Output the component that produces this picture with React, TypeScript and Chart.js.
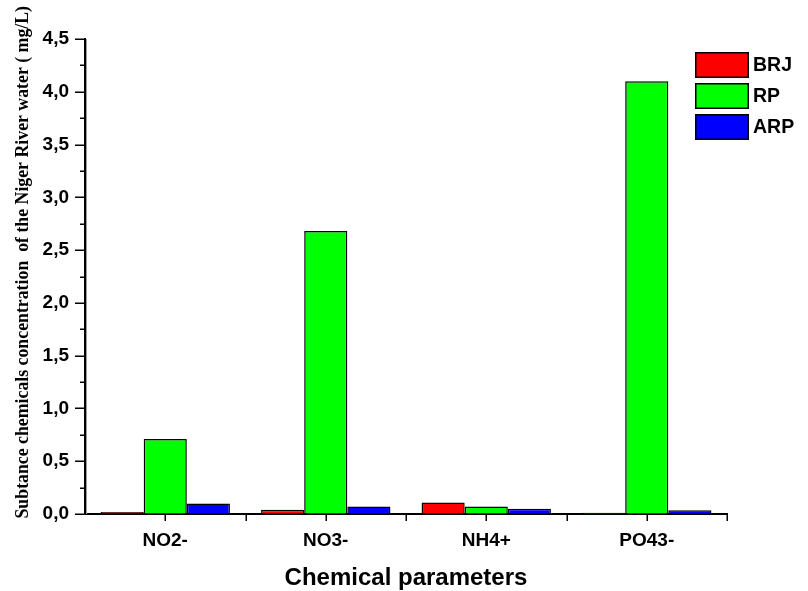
import React, { useEffect, useRef } from 'react';
import { Chart, registerables } from 'chart.js';

Chart.register(...registerables);

const categories = ['NO2-', 'NO3-', 'NH4+', 'PO43-'];
const seriesNames = ['BRJ', 'RP', 'ARP'];
const brjValues = [0.02, 0.04, 0.11, 0.012];
const rpValues = [0.71, 2.68, 0.07, 4.1];
const arpValues = [0.1, 0.07, 0.05, 0.035];
const seriesColors = ['#FF0000', '#00FF00', '#0000FF'];
const yMajorTicks = [0, 0.5, 1, 1.5, 2, 2.5, 3, 3.5, 4, 4.5];
const yMinorTicks = [0.25, 0.75, 1.25, 1.75, 2.25, 2.75, 3.25, 3.75, 4.25];
const yTitle = 'Subtance chemicals concentration  of the Niger River water ( mg/L)';
const xTitle = 'Chemical parameters';

const decorPlugin = {
  id: 'decor',
  afterDraw(chart: any) {
    const { ctx, chartArea, scales } = chart;
    const xs = scales.x;
    const ys = scales.y;
    ctx.save();
    // subtle axis shadow
    ctx.strokeStyle = '#9a9a9a';
    ctx.lineWidth = 1;
    ctx.beginPath();
    ctx.moveTo(chartArea.left + 1.5, chartArea.top);
    ctx.lineTo(chartArea.left + 1.5, chartArea.bottom);
    ctx.stroke();

    ctx.strokeStyle = '#000';
    ctx.lineWidth = 1.5;
    ctx.beginPath();
    yMajorTicks.forEach((v) => {
      const p = Math.round(ys.getPixelForValue(v)) + 0.25;
      ctx.moveTo(chartArea.left, p);
      ctx.lineTo(chartArea.left - 10, p);
    });
    yMinorTicks.forEach((v) => {
      const p = Math.round(ys.getPixelForValue(v)) + 0.25;
      ctx.moveTo(chartArea.left, p);
      ctx.lineTo(chartArea.left - 5, p);
    });
    // x ticks at category centres and boundaries
    const n = categories.length;
    const xPositions: number[] = [];
    for (let i = 0; i < n; i++) {
      const c = xs.getPixelForValue(i);
      xPositions.push(c);
      const next = i < n - 1 ? xs.getPixelForValue(i + 1) : null;
      if (next !== null) xPositions.push((c + next) / 2);
    }
    xPositions.push(chartArea.right);
    xPositions.forEach((px) => {
      const p = Math.round(px) + 0.25;
      ctx.moveTo(p, chartArea.bottom);
      ctx.lineTo(p, chartArea.bottom + 7);
    });
    ctx.stroke();

    // y title
    ctx.save();
    ctx.translate(27.5, chartArea.top + (chartArea.bottom - chartArea.top) * 0.47);
    ctx.rotate(-Math.PI / 2);
    ctx.font = 'bold 17.8px "Liberation Serif", "Times New Roman", serif';
    ctx.fillStyle = '#000';
    ctx.textAlign = 'center';
    ctx.textBaseline = 'alphabetic';
    ctx.fillText(yTitle, 0, 0);
    ctx.restore();

    // legend
    const lx = 695;
    const ly = 52;
    const bw = 54;
    const bh = 26;
    const gap = 31;
    chart.data.datasets.forEach((ds: any, i: number) => {
      const top = ly + i * gap;
      ctx.fillStyle = ds.backgroundColor;
      ctx.fillRect(lx, top, bw, bh);
      ctx.strokeStyle = '#000';
      ctx.lineWidth = 1.5;
      ctx.strokeRect(lx + 0.75, top + 0.75, bw - 1.5, bh - 1.5);
      ctx.fillStyle = '#000';
      ctx.font = 'bold 19.5px "Liberation Sans", Arial, sans-serif';
      ctx.textAlign = 'left';
      ctx.textBaseline = 'middle';
      ctx.fillText(ds.label, lx + bw + 4, top + bh / 2 + 1);
    });
    ctx.restore();
  },
};

export default function App() {
  const canvasRef = useRef<HTMLCanvasElement | null>(null);

  useEffect(() => {
    if (!canvasRef.current) return;
    const valueLists = [brjValues, rpValues, arpValues];
    const chart = new Chart(canvasRef.current, {
      type: 'bar',
      data: {
        labels: categories,
        datasets: seriesNames.map((name, i) => ({
          label: name,
          data: valueLists[i],
          backgroundColor: seriesColors[i],
          borderColor: '#000',
          borderWidth: 1.5,
          categoryPercentage: 0.806,
          barPercentage: 1,
        })),
      },
      options: {
        animation: false,
        responsive: false,
        devicePixelRatio: 1,
        layout: { padding: { left: 0, top: 39, right: 81, bottom: 0 } },
        plugins: {
          legend: { display: false },
          tooltip: { enabled: false },
        },
        scales: {
          x: {
            type: 'category',
            offset: true,
            grid: { display: true, drawOnChartArea: false, drawTicks: true, tickLength: 7, color: 'rgba(0,0,0,0)' },
            border: { display: true, color: '#000', width: 2 },
            ticks: {
              color: '#000',
              font: { family: '"Liberation Sans", Arial, sans-serif', size: 19, weight: 'bold' },
              padding: 8,
              maxRotation: 0,
            },
            title: {
              display: true,
              text: xTitle,
              color: '#000',
              font: { family: '"Liberation Sans", Arial, sans-serif', size: 24, weight: 'bold' },
              padding: { top: 0, bottom: -2 },
            },
            afterFit: (scale: any) => {
              scale.height = 77;
            },
          },
          y: {
            type: 'linear',
            min: 0,
            max: 4.5,
            grid: { display: true, drawOnChartArea: false, drawTicks: true, tickLength: 10, color: 'rgba(0,0,0,0)' },
            border: { display: true, color: '#000', width: 2 },
            ticks: {
              stepSize: 0.5,
              color: '#000',
              padding: 6,
              font: { family: '"Liberation Sans", Arial, sans-serif', size: 19, weight: 'bold' },
              callback: (v: any) => Number(v).toFixed(1).replace('.', ','),
            },
            afterFit: (scale: any) => {
              scale.width = 85;
            },
          },
        },
      },
      plugins: [decorPlugin],
    });
    return () => chart.destroy();
  }, []);

  return (
    <div style={{ position: 'absolute', left: 0, top: 0, width: 808, height: 591, background: '#fff' }}>
      <canvas ref={canvasRef} width={808} height={591} style={{ width: 808, height: 591, display: 'block' }} />
    </div>
  );
}
